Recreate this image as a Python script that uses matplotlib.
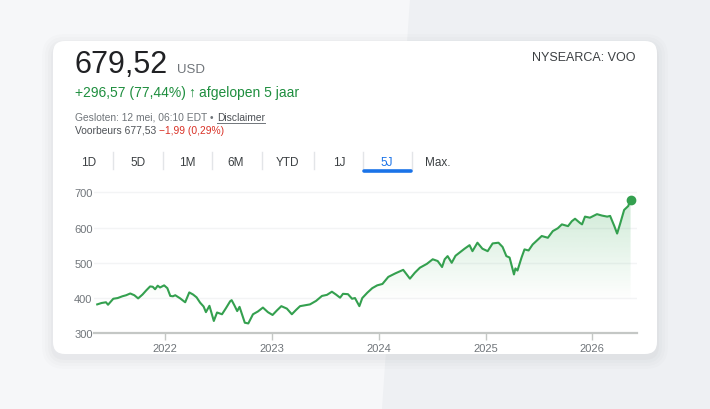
import numpy as np
import pandas as pd
import matplotlib
matplotlib.use('Agg')
import matplotlib.pyplot as plt
import matplotlib.dates as mdates
from matplotlib.patches import FancyBboxPatch, Polygon

plt.rcParams['font.family'] = ['Liberation Sans', 'DejaVu Sans']

# ---- data (VOO, 5 years) ----
dates = [
    "2021-05-13", "2021-05-28", "2021-06-12", "2021-06-19", "2021-07-07", "2021-07-22",
    "2021-08-07", "2021-08-20", "2021-09-03", "2021-09-17", "2021-09-30", "2021-10-15",
    "2021-10-28", "2021-11-10", "2021-11-19", "2021-11-27", "2021-12-06", "2021-12-14",
    "2021-12-28", "2022-01-08", "2022-01-18", "2022-01-27", "2022-02-04", "2022-02-21",
    "2022-03-10", "2022-03-24", "2022-04-06", "2022-04-18", "2022-04-30", "2022-05-12",
    "2022-05-20", "2022-06-01", "2022-06-16", "2022-06-27", "2022-07-14", "2022-07-28",
    "2022-08-11", "2022-08-16", "2022-08-25", "2022-09-04", "2022-09-12", "2022-09-24",
    "2022-09-30", "2022-10-12", "2022-10-28", "2022-11-14", "2022-12-01", "2022-12-18",
    "2023-01-03", "2023-01-18", "2023-02-02", "2023-02-21", "2023-03-10", "2023-03-24",
    "2023-04-07", "2023-05-11", "2023-06-01", "2023-06-21", "2023-07-08", "2023-07-25",
    "2023-08-08", "2023-08-22", "2023-09-01", "2023-09-18", "2023-10-02", "2023-10-12",
    "2023-10-27", "2023-11-06", "2023-11-23", "2023-12-10", "2023-12-27", "2024-01-14",
    "2024-02-03", "2024-02-27", "2024-03-25", "2024-04-17", "2024-05-04", "2024-05-21",
    "2024-06-14", "2024-07-04", "2024-07-21", "2024-08-05", "2024-08-14", "2024-08-24",
    "2024-09-07", "2024-09-20", "2024-10-04", "2024-10-21", "2024-11-07", "2024-11-17",
    "2024-12-04", "2024-12-21", "2025-01-08", "2025-01-25", "2025-02-14", "2025-02-28",
    "2025-03-13", "2025-03-24", "2025-04-08", "2025-04-13", "2025-04-20", "2025-05-04",
    "2025-05-14", "2025-05-28", "2025-06-11", "2025-06-28", "2025-07-12", "2025-08-02",
    "2025-08-19", "2025-09-05", "2025-09-19", "2025-10-10", "2025-10-23", "2025-11-03",
    "2025-11-20", "2025-11-27", "2025-12-07", "2025-12-24", "2026-01-17", "2026-02-03",
    "2026-02-21", "2026-03-03", "2026-03-17", "2026-03-27", "2026-04-06", "2026-04-20",
    "2026-05-04", "2026-05-12",
]
prices = [
    382, 386, 388, 381, 398, 400,
    405, 408, 413, 408, 399, 410,
    422, 433, 432, 425, 435, 430,
    436, 428, 406, 405, 408, 399,
    388, 416, 410, 402, 387, 376,
    360, 378, 335, 359, 354, 372,
    391, 394, 380, 363, 375, 345,
    330, 328, 354, 362, 373, 360,
    352, 365, 377, 370, 354, 366,
    377, 382, 392, 406, 409, 418,
    410, 401, 412, 411, 398, 400,
    377, 400, 415, 428, 436, 440,
    460, 470, 480, 455, 472, 486,
    497, 510, 505, 488, 510, 519,
    500, 520, 529, 540, 550, 533,
    557, 540, 533, 555, 557, 545,
    519, 515, 467, 484, 478, 515,
    538, 535, 552, 565, 576, 571,
    590, 598, 609, 604, 618, 625,
    613, 609, 631, 628, 638, 634,
    631, 633, 605, 583, 610, 650,
    661, 679.52,
]
y_ticks = [300, 400, 500, 600, 700]
x_ticks = ["2022-01-01", "2023-01-01", "2024-01-01", "2025-01-01", "2026-01-01"]
tabs = ["1D", "5D", "1M", "6M", "YTD", "1J", "5J", "Max."]
active_tab = "5J"

GREEN = '#1e8e3e'
LINE = '#34a04f'
GRAY = '#70757a'
DARK = '#202124'

W, H = 710, 410
fig = plt.figure(figsize=(W / 100, H / 100), dpi=100)
fig.patch.set_facecolor('#f6f7f9')

# background layer in pixel coordinates
bg = fig.add_axes([0, 0, 1, 1])
bg.set_xlim(0, W)
bg.set_ylim(H, 0)
bg.axis('off')
bg.add_patch(Polygon([(410, 0), (W, 0), (W, H), (382, H)], closed=True,
                     facecolor='#eef0f3', edgecolor='none'))

# soft card shadow + card
for i, a in enumerate([0.025, 0.02, 0.015, 0.01]):
    e = 2 + i * 3
    bg.add_patch(FancyBboxPatch((53 - e, 42 - e + 4), 604 + 2 * e, 313 + 2 * e,
                                boxstyle="round,pad=0,rounding_size=%d" % (12 + e),
                                facecolor='#3c4043', alpha=a, edgecolor='none'))
bg.add_patch(FancyBboxPatch((53, 42), 604, 313, boxstyle="round,pad=0,rounding_size=12",
                            facecolor='white', edgecolor='none'))

# header texts
bg.text(74, 73, "679,52", fontsize=22, color=DARK, va='baseline', ha='left')
bg.text(177, 73, "USD", fontsize=9.5, color=GRAY, va='baseline', ha='left')
bg.text(636, 61, "NYSEARCA: VOO", fontsize=9, color='#3c4043', va='baseline', ha='right')
bg.text(75, 97, "+296,57 (77,44%)", fontsize=10, color=GREEN, va='baseline', ha='left')
bg.text(188, 97, "\u2191", fontsize=10, color=GREEN, va='baseline', ha='left', fontweight='bold')
bg.text(199, 97, "afgelopen 5 jaar", fontsize=10, color=GREEN, va='baseline', ha='left')
bg.text(75, 121, "Gesloten: 12 mei, 06:10 EDT \u2022", fontsize=7.4, color=GRAY,
        va='baseline', ha='left')
bg.text(217, 121, "Disclaimer", fontsize=7.4, color='#4d5156', va='baseline', ha='left')
bg.plot([217, 265], [123.5, 123.5], color='#70757a', lw=0.7)
bg.text(75, 134, "Voorbeurs 677,53", fontsize=7.4, color='#4d5156', va='baseline', ha='left')
bg.text(159, 134, "\u22121,99 (0,29%)", fontsize=7.4, color='#d93025', va='baseline', ha='left')

# range tabs
tab_x = [89, 138, 187, 236, 287, 339, 387, 438]
for x, t in zip(tab_x, tabs):
    bg.text(x, 166, t, fontsize=8.5, ha='center', va='baseline',
            color='#1a73e8' if t == active_tab else '#3c4043')
for x in [113, 163, 212, 262, 314, 363, 412]:
    bg.plot([x, x], [153, 170], color='#e3e5e8', lw=1)
bg.plot([363.5, 410.5], [172, 172], color='#1a73e8', lw=2.6, solid_capstyle='round')

# ---- price chart ----
px0, px1 = 94, 637
py_bot, py_top = 334.3, 334.3 - 410 * 0.3525
ax = fig.add_axes([px0 / W, (H - py_bot) / H, (px1 - px0) / W, (py_bot - py_top) / H])
ax.set_facecolor('none')

d = pd.to_datetime(dates)
xn = mdates.date2num(d)
xmin = mdates.date2num(pd.Timestamp("2021-05-02"))
xmax = mdates.date2num(pd.Timestamp("2026-06-03"))
ax.set_xlim(xmin, xmax)
ax.set_ylim(300, 710)

for v in y_ticks[1:]:
    ax.axhline(v, color='#f3f4f5', lw=1, zorder=0)

# gradient fill under the line
grad = np.zeros((256, 2, 4))
grad[:, :, :3] = matplotlib.colors.to_rgb('#34a853')
alpha = np.clip((np.linspace(300, 710, 256) - 390) / 310, 0, 1) * 0.26
grad[:, :, 3] = alpha[:, None]
poly = ax.fill_between(xn, prices, 300, color='none', lw=0)
im = ax.imshow(grad, extent=[xmin, xmax, 300, 710], origin='lower', aspect='auto', zorder=1)
im.set_clip_path(poly.get_paths()[0], transform=ax.transData)

ax.plot(xn, prices, color=LINE, lw=1.5, zorder=3, solid_joinstyle='round')
ax.plot(xn[-1], prices[-1], 'o', color=LINE, ms=6, zorder=4)

for s in ['top', 'right', 'left']:
    ax.spines[s].set_visible(False)
ax.spines['bottom'].set_color('#c4c7c5')
ax.spines['bottom'].set_linewidth(1.6)

ax.set_yticks(y_ticks)
ax.set_yticklabels([str(v) for v in y_ticks])
ax.tick_params(axis='y', length=0, pad=1, labelsize=8, labelcolor=GRAY)
ax.set_xticks(mdates.date2num(pd.to_datetime(x_ticks)))
ax.set_xticklabels([t[:4] for t in x_ticks])
ax.tick_params(axis='x', length=5, width=1, color='#c4c7c5', pad=2, labelsize=8,
               labelcolor=GRAY)

fig.savefig('out.png', dpi=100, facecolor=fig.get_facecolor())
